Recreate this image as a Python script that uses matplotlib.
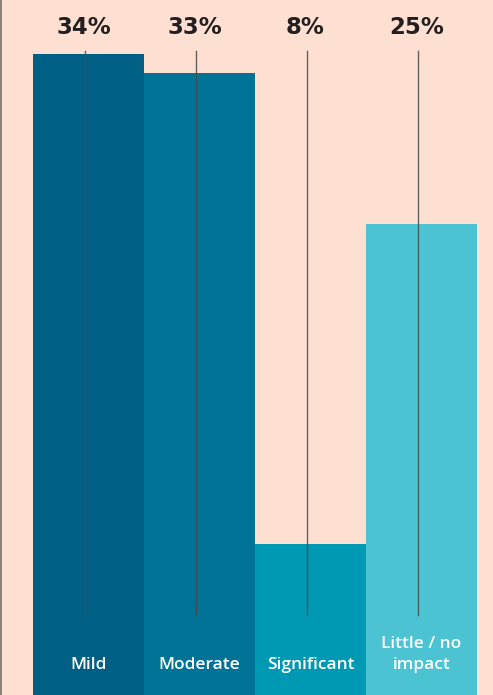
import matplotlib
matplotlib.use("Agg")
import matplotlib.pyplot as plt

categories = ["Mild", "Moderate", "Significant", "Little / no\nimpact"]
values = [34, 33, 8, 25]
value_labels = ["34%", "33%", "8%", "25%"]
colors = ["#005F85", "#007396", "#0099B4", "#4BC3D2"]
bg = "#FDE0D2"

fig = plt.figure(figsize=(4.93, 6.95), dpi=100, facecolor=bg)
ax = fig.add_axes([0, 0, 1, 1], facecolor=bg)

x = list(range(len(values)))
ax.bar(x, values, width=1.0, color=colors, linewidth=0, zorder=1)

ax.set_xlim(-0.797, 3.644)
ax.set_ylim(0, 36.87)

for i, (lab, cat) in enumerate(zip(value_labels, categories)):
    ax.axvline(i - 0.035, ymin=0.115, ymax=0.927, color="#4a4a4a", lw=1.0, alpha=0.85, zorder=2)
    ax.text(i - 0.045, 0.961, lab, transform=ax.get_xaxis_transform(), ha="center", va="center",
            fontsize=16.5, fontweight="bold", color="#231f20", family="DejaVu Sans")
    ax.text(i, 0.043 if "\n" not in cat else 0.058, cat, transform=ax.get_xaxis_transform(),
            ha="center", va="center", fontsize=12.5, color="white", family="Open Sans",
            fontweight="semibold", linespacing=1.45)

for s in ["top", "right", "bottom"]:
    ax.spines[s].set_visible(False)
ax.spines["left"].set_color("#8a7c78")
ax.spines["left"].set_linewidth(2)
ax.set_xticks([])
ax.set_yticks([])

fig.savefig("out.png", dpi=100, facecolor=bg)
